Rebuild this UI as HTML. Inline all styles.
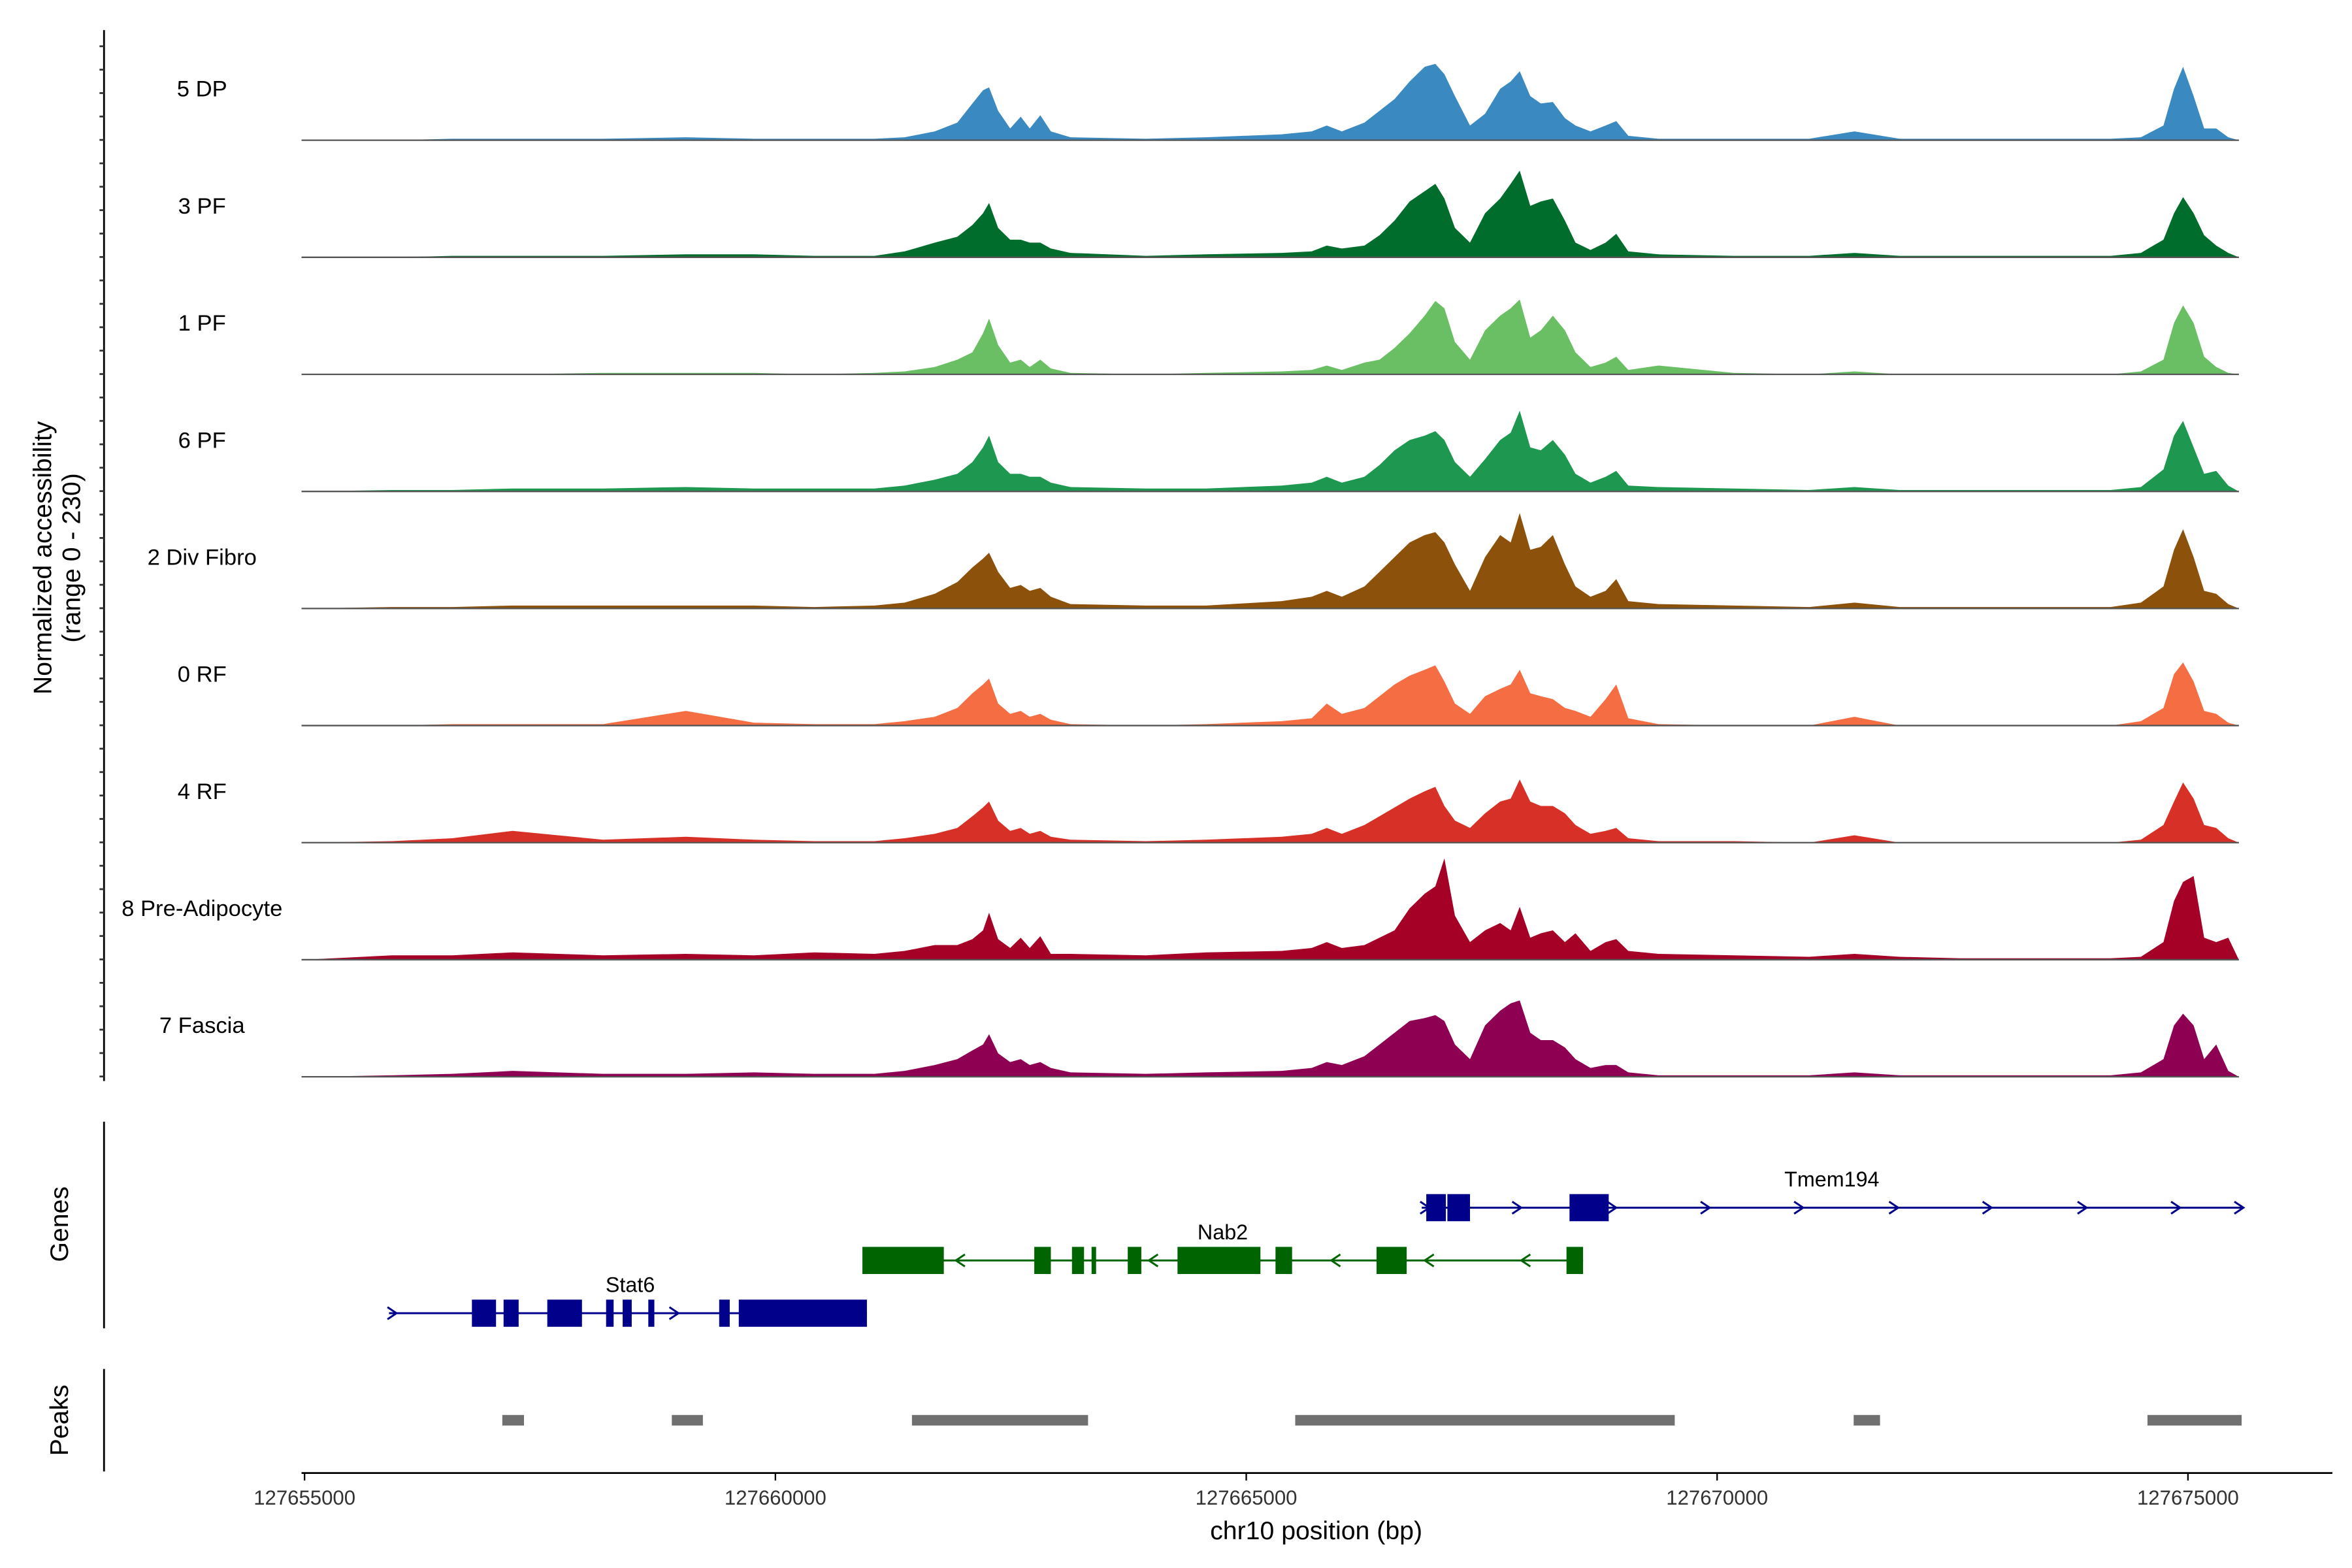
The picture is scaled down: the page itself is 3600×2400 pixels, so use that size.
<!DOCTYPE html>
<html><head><meta charset="utf-8"><style>
html,body{margin:0;padding:0;background:#fff;}
svg{display:block;font-family:"Liberation Sans",sans-serif;}
</style></head><body>
<svg id="chart" width="3600" height="2400" viewBox="0 0 1560 1040" xmlns="http://www.w3.org/2000/svg">
<rect width="1560" height="1040" fill="#fff"/>
<g id="tracks"></g>
<g id="axes"></g>
<g id="genes"></g>
<g id="peaks"></g>
</svg>
<script>
// genomic offsets (bp from 127655000)
const positions = [0,929,1569,2209,3170,4050,4771,5411,6052,6372,6692,6932,7092,7205,7269,7365,7493,7605,7701,7813,7925,8133,8934,9574,10375,10695,10855,11015,11255,11415,11575,11735,11895,12008,12104,12216,12376,12536,12696,12808,12904,13016,13128,13256,13384,13496,13656,13816,13929,14057,14377,15177,15978,16458,16938,17578,18379,19179,19500,19740,19852,19948,20060,20172,20300,20428,20540];
const groupNames = ["5 DP","3 PF","1 PF","6 PF","2 Div Fibro","0 RF","4 RF","8 Pre-Adipocyte","7 Fascia"];
const groupColors = ["#3a89c0","#006d2c","#6abf64","#1e9850","#8c510a","#f46d43","#d73027","#a50026","#8e0152"];
const valsDP = [0,0,1,1,1,2,1,1,1,2,6,12,25,34,36,20,8,16,8,17,6,2,1,2,4,6,10,6,12,20,28,40,50,52,45,30,10,18,35,40,47,30,25,26,15,10,6,10,13,3,1,1,1,6,1,1,1,1,2,10,35,50,30,8,8,2,0];
const vals3PF = [0,0,1,1,1,2,2,1,1,4,10,14,22,30,37,20,12,12,10,10,6,3,1,2,3,4,8,6,8,15,25,38,45,50,40,20,10,30,40,50,59,35,38,40,25,10,5,10,16,4,2,1,1,3,1,1,1,1,3,12,30,41,30,15,8,3,0];
const vals1PF = [0,0,0,0,1,1,1,0,1,2,5,10,15,28,38,20,8,10,5,10,4,1,0,1,2,3,6,3,8,10,18,28,40,50,45,22,10,30,40,45,51,25,30,40,30,15,5,8,12,3,6,1,0,2,0,0,0,0,2,10,35,47,35,12,5,1,0];
const vals6PF = [0,1,1,2,2,3,2,2,2,4,8,12,20,30,38,20,12,12,10,10,6,3,2,2,4,6,10,6,10,18,28,35,38,41,35,20,10,22,35,40,55,30,28,35,25,12,6,10,14,4,3,2,1,3,1,1,1,1,3,15,38,48,30,12,14,4,0];
const vals2DF = [0,1,1,2,2,2,2,1,2,4,10,18,28,34,38,25,14,16,12,14,8,3,2,2,5,8,12,8,15,25,35,45,50,52,45,30,12,35,50,45,65,40,42,50,30,15,8,12,20,5,3,2,1,4,1,1,1,1,4,15,40,54,35,12,10,3,0];
const vals0RF = [0,0,1,1,1,10,2,1,1,3,6,12,22,28,32,15,8,10,6,8,4,1,0,1,3,5,15,8,12,20,28,34,38,41,30,15,8,20,25,28,38,22,20,18,12,10,6,18,28,5,1,0,0,6,0,0,0,0,3,12,35,43,30,10,8,2,0];
const vals4RF = [0,1,3,8,2,4,2,1,1,3,6,10,18,24,28,15,8,10,6,8,4,2,1,2,4,6,10,6,12,18,24,30,35,38,25,15,10,20,28,30,43,28,25,25,20,12,6,8,10,3,1,1,0,5,0,0,0,0,2,12,28,41,30,12,10,3,0];
const vals8PA = [0,3,3,5,3,4,3,5,4,6,10,10,14,20,32,14,8,15,8,16,4,4,3,5,6,8,12,8,10,15,20,35,45,50,69,30,12,20,25,20,36,15,18,20,12,18,6,12,14,6,4,3,2,4,2,1,1,1,2,12,40,53,57,15,12,15,0];
const vals7FA = [0,1,2,4,2,2,3,2,2,4,8,12,18,22,29,16,10,12,8,10,6,3,2,3,4,6,10,8,14,22,30,38,40,42,38,22,12,35,45,50,52,30,25,25,20,12,6,8,8,3,1,1,1,3,1,1,1,1,3,12,35,43,35,12,22,4,0];
const xTicks = [0,5000,10000,15000,20000];
const xTickLabels = ["127655000","127660000","127665000","127670000","127675000"];
const peakStarts = [2100,3900,6450,10520,16450,19570];
const peakEnds = [2330,4230,8320,14550,16730,20570];

const NS="http://www.w3.org/2000/svg";
function mk(tag,attrs,parent){const e=document.createElementNS(NS,tag);for(const k in attrs)e.setAttribute(k,attrs[k]);parent.appendChild(e);return e;}
function xScale(bp){return 202+bp*312.3/5000;}
const trackStep=77.65, vmax=77;
function yScale(v,i){const base=93+i*trackStep;return base-v*(75/vmax);}
const allVals=[valsDP,vals3PF,vals1PF,vals6PF,vals2DF,vals0RF,vals4RF,vals8PA,vals7FA];
const tracks=document.getElementById('tracks');
allVals.forEach((vals,i)=>{
  const base=yScale(0,i);
  let d="M"+xScale(positions[0])+","+base;
  for(let j=0;j<positions.length;j++){const v=vals[j]||0;d+=" L"+xScale(positions[j]).toFixed(2)+","+yScale(v,i).toFixed(2);}
  d+=" L"+xScale(positions[positions.length-1])+","+base+" Z";
  const p=mk('path',{d:d,fill:groupColors[i]},tracks);
  
  
  const l=mk('line',{x1:200,x2:1485,y1:base,y2:base,stroke:'#555','stroke-width':1},tracks);
  
  
  const t=mk('text',{x:134,y:base-29,'text-anchor':'middle','font-size':15,fill:'#000'},tracks);
  t.textContent=groupNames[i];
  
  
});
const axes=document.getElementById('axes');
let a=mk('line',{x1:69,x2:69,y1:20,y2:717,stroke:'#000','stroke-width':1.2},axes);


for(let y=714;y>=25;y-=15.53){const tk=mk('line',{x1:66,x2:69,y1:y,y2:y,stroke:'#333','stroke-width':1.2},axes);

}
let yt=mk('text',{transform:'translate(34,370) rotate(-90)','text-anchor':'middle','font-size':17},axes);


yt.innerHTML='<tspan x="0" dy="0">Normalized accessibility</tspan><tspan x="0" dy="19">(range 0 - 230)</tspan>';
a=mk('line',{x1:69,x2:69,y1:744,y2:881,stroke:'#000','stroke-width':1.2},axes);


a=mk('line',{x1:69,x2:69,y1:908,y2:976,stroke:'#000','stroke-width':1.2},axes);


let g=mk('text',{transform:'translate(45,812) rotate(-90)','text-anchor':'middle','font-size':17},axes);g.textContent='Genes';


g=mk('text',{transform:'translate(45,942) rotate(-90)','text-anchor':'middle','font-size':17},axes);g.textContent='Peaks';


a=mk('line',{x1:200,x2:1547,y1:977,y2:977,stroke:'#000','stroke-width':1.2},axes);


xTicks.forEach((b,i)=>{const x=xScale(b);
 const tk=mk('line',{x1:x,x2:x,y1:977,y2:982,stroke:'#000'},axes);
 
 
 const t=mk('text',{x:x,y:998,'text-anchor':'middle','font-size':13.5,fill:'#333'},axes);t.textContent=xTickLabels[i];
 
 
});
let xt=mk('text',{x:873,y:1021,'text-anchor':'middle','font-size':17},axes);xt.textContent='chr10 position (bp)';



const genes=document.getElementById('genes');
function gene(name,color,y,x1,x2,exons,arrows,dir,lx,ly){
  const grp=mk('g',{},genes);
  
  
  mk('line',{x1:x1,x2:x2,y1:y,y2:y,stroke:color,'stroke-width':1.3},grp);
  exons.forEach(e=>mk('rect',{x:e[0],y:y-9,width:e[1]-e[0],height:18,fill:color},grp));
  arrows.forEach(x=>{const s=dir>0?-1:1;mk('path',{d:`M${x+3*s},${y-4} L${x-3*s},${y} L${x+3*s},${y+4}`,fill:'none',stroke:color,'stroke-width':1.3},grp);});
  const t=mk('text',{x:lx,y:ly,'text-anchor':'middle','font-size':14},grp);t.textContent=name;
}
gene('Tmem194','#00008b',801,943,1487,[[946,959],[960,975],[1041,1067]],[945,1006,1069,1131,1193,1256,1318,1381,1443,1485],1,1215,787);
gene('Nab2','#006400',836,572,1050,[[572,626],[686,697],[711,719],[724,727],[748,757],[781,836],[846,857],[913,933],[1039,1050]],[637,765,886,948,1012],-1,811,822);
gene('Stat6','#00008b',871,258,575,[[313,329],[334,344],[363,386],[402,407],[413,419],[430,434],[477,484],[490,575]],[260,447],1,418,857);

const peaks=document.getElementById('peaks');
peakStarts.forEach((s,i)=>{const r=mk('rect',{x:xScale(s),y:938.5,width:xScale(peakEnds[i])-xScale(s),height:7,fill:'#707070'},peaks);

});
</script>
</body></html>
